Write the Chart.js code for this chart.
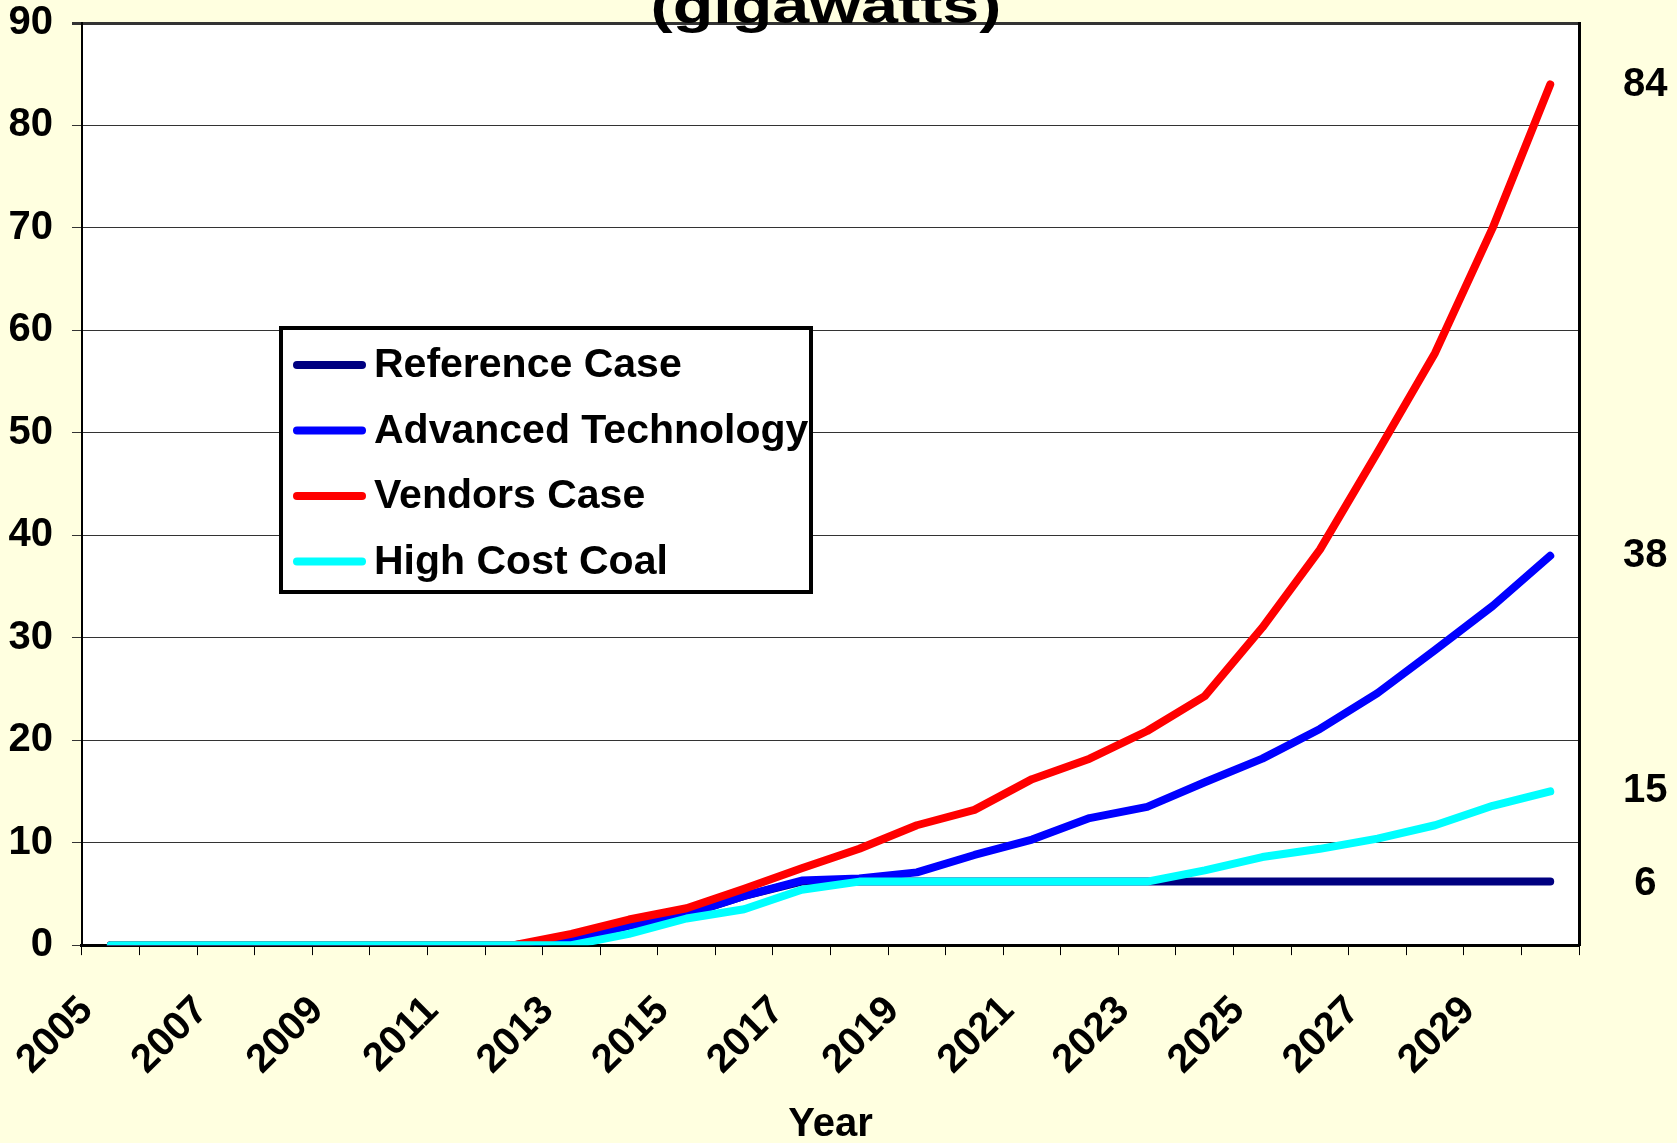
<!DOCTYPE html>
<html lang="en">
<head>
<meta charset="UTF-8" />
<title>Capacity (gigawatts)</title>
<script src="https://cdn.jsdelivr.net/npm/chart.js@4.4.0/dist/chart.umd.min.js"></script>
<style>
  html, body { margin: 0; padding: 0; background: #ffffe0; overflow: hidden; }
  canvas { display: block; }
</style>
</head>
<body>
<canvas id="chart" width="1677" height="1143"></canvas>
<script>
const years = ['2005', '2006', '2007', '2008', '2009', '2010', '2011', '2012', '2013',
  '2014', '2015', '2016', '2017', '2018', '2019', '2020', '2021', '2022', '2023',
  '2024', '2025', '2026', '2027', '2028', '2029', '2030'];

const referenceCase = [0, 0, 0, 0, 0, 0, 0, 0, 0.6, 1.9, 3.0, 4.8, 6.2, 6.2, 6.2, 6.2, 6.2,
  6.2, 6.2, 6.2, 6.2, 6.2, 6.2, 6.2, 6.2, 6.2];
const advancedTech = [0, 0, 0, 0, 0, 0, 0, 0, 0.6, 1.9, 3.0, 4.8, 6.3, 6.5, 7.1, 8.8, 10.3,
  12.4, 13.5, 15.9, 18.2, 21.1, 24.6, 28.8, 33.1, 38.0];
const vendorsCase = [0, 0, 0, 0, 0, 0, 0, 0, 1.1, 2.5, 3.6, 5.5, 7.5, 9.4, 11.7, 13.2, 16.2,
  18.2, 20.9, 24.3, 31.0, 38.6, 48.1, 57.8, 70.0, 84.0];
const highCostCoal = [0, 0, 0, 0, 0, 0, 0, 0, 0, 1.1, 2.6, 3.5, 5.4, 6.2, 6.2, 6.2, 6.2,
  6.2, 6.2, 7.3, 8.6, 9.4, 10.4, 11.7, 13.6, 15.0];

// end values printed on the right side
const endLabels = [84, 38, 15, 6];

const FONT = "'Liberation Sans', Arial, sans-serif";
const bold = (size, lh) => ({ family: FONT, size: size, weight: 'bold', lineHeight: lh || 1.2 });

// white plot area on the yellow page
const plotBackground = {
  id: 'plotBackground',
  beforeDraw(chart) {
    const { ctx, chartArea: a } = chart;
    ctx.save();
    ctx.fillStyle = '#ffffff';
    ctx.fillRect(a.left, a.top, a.right - a.left, a.bottom - a.top);
    ctx.restore();
  }
};

// boxed legend sitting inside the plot
const boxLegend = {
  id: 'boxLegend',
  afterDatasetsDraw(chart) {
    const ctx = chart.ctx;
    ctx.save();
    ctx.fillStyle = '#ffffff';
    ctx.fillRect(281, 328, 530, 264);
    ctx.lineWidth = 4;
    ctx.strokeStyle = '#000';
    ctx.strokeRect(281, 328, 530, 264);
    ctx.font = 'bold 41px ' + FONT;
    ctx.textBaseline = 'middle';
    ctx.textAlign = 'left';
    chart.data.datasets.forEach((ds, i) => {
      const y = 365 + i * 65.5;
      ctx.beginPath();
      ctx.lineCap = 'round';
      ctx.lineWidth = 8;
      ctx.strokeStyle = ds.borderColor;
      ctx.moveTo(297, y);
      ctx.lineTo(362, y);
      ctx.stroke();
      ctx.fillStyle = '#000';
      ctx.fillText(ds.label, 374, y + 1);
    });
    ctx.restore();
  }
};

// second title line, mostly cut off at the top edge
const topTitle = {
  id: 'topTitle',
  afterDraw(chart) {
    const ctx = chart.ctx;
    ctx.save();
    ctx.translate(826, 23);
    ctx.scale(1.33, 1);
    ctx.font = 'bold 50px ' + FONT;
    ctx.textAlign = 'center';
    ctx.textBaseline = 'alphabetic';
    ctx.fillStyle = '#000';
    ctx.fillText('(gigawatts)', 0, 0);
    ctx.restore();
  }
};

// label padding must not push the plot edges inwards
const noEdgePadding = axis => { axis.paddingTop = 0; axis.paddingBottom = 0; };

const line = (label, data, color, order) => ({
  label: label,
  data: data,
  borderColor: color,
  backgroundColor: color,
  borderWidth: 8,
  borderCapStyle: 'round',
  borderJoinStyle: 'round',
  pointRadius: 0,
  tension: 0,
  fill: false,
  order: order
});

new Chart(document.getElementById('chart').getContext('2d'), {
  type: 'line',
  data: {
    labels: years,
    datasets: [
      line('Reference Case', referenceCase, '#000080', 4),
      line('Advanced Technology', advancedTech, '#0000ff', 3),
      line('Vendors Case', vendorsCase, '#ff0000', 2),
      line('High Cost Coal', highCostCoal, '#00ffff', 1)
    ]
  },
  options: {
    responsive: false,
    animation: false,
    devicePixelRatio: 1,
    layout: { padding: { left: -10.5, right: -34.5, top: 23, bottom: 0 } },
    plugins: { legend: { display: false }, tooltip: { enabled: false } },
    scales: {
      x: {
        offset: true,
        grid: { offset: true, drawOnChartArea: false, tickLength: 10, color: '#000', lineWidth: 1 },
        border: { color: '#000', width: 3 },
        ticks: {
          autoSkip: false, minRotation: 45, maxRotation: 45,
          padding: 32, labelOffset: -24, color: '#000', font: bold(40),
          callback: function (v, i) { return i % 2 === 0 ? this.getLabelForValue(v) : ''; }
        },
        title: { display: true, text: 'Year', color: '#000', font: bold(40), padding: { top: -15, bottom: -6 } }
      },
      y: {
        min: 0, max: 90,
        afterFit: noEdgePadding,
        ticks: { stepSize: 10, padding: 19, color: '#000', font: bold(40, 1.1) },
        grid: {
          color: '#333', tickLength: 10,
          lineWidth: c => (c.tick && c.tick.value === 90 ? 3 : 1)
        },
        border: { color: '#000', width: 2 }
      },
      y2: {
        position: 'right', min: 0, max: 90,
        afterFit: noEdgePadding,
        afterBuildTicks: axis => { axis.ticks = endLabels.map(v => ({ value: v })); },
        grid: { drawOnChartArea: false, drawTicks: false },
        border: { color: '#000', width: 3 },
        ticks: { crossAlign: 'center', padding: 44, color: '#000', font: bold(40, 1.1) }
      }
    }
  },
  plugins: [plotBackground, boxLegend, topTitle]
});
</script>
</body>
</html>
